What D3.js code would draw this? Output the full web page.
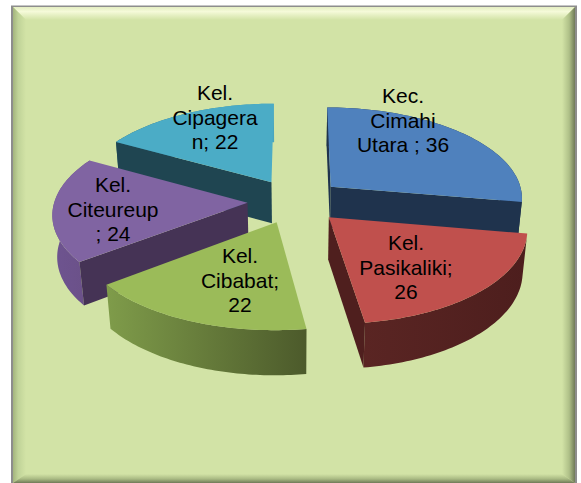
<!DOCTYPE html>
<html>
<head>
<meta charset="utf-8">
<style>html,body{margin:0;padding:0;background:#fff}svg{display:block}</style>
<script src="https://cdn.jsdelivr.net/npm/d3@7/dist/d3.min.js"></script>
</head>
<body>
<div id="chart"></div>
<script>
const categories = ["Kec. Cimahi Utara", "Kel. Pasikaliki", "Kel. Cibabat", "Kel. Citeureup", "Kel. Cipagera"];
const values = [36, 26, 22, 24, 22];
const labelLines = [
  ["Kec.", "Cimahi", "Utara ; 36"],
  ["Kel.", "Pasikaliki;", "26"],
  ["Kel.", "Cibabat;", "22"],
  ["Kel.", "Citeureup", "; 24"],
  ["Kel.", "Cipagera", "n; 22"]
];
const topColors = ["#4f81bd", "#c0504d", "#9bbb59", "#8064a2", "#4bacc6"];
const cutColors = ["#1f334d", "#4f1f1e", "#4f5f2d", "#453355", "#1f4551"];
const outerStops = [
  ["#1f334d", "#1f334d"],
  ["#5a2523", "#4d1e1d"],
  ["#7f9c4a", "#4c5a2b"],
  ["#6e5490", "#6a5087"],
  ["#2a5f6e", "#4aa5be"]
];
const drawOrder = [0, 4, 3, 1, 2];
const labelCentres = [[403, 103], [406, 250], [240, 263], [113, 192], [215, 100]];

const W = 581, H = 483;
const cx = 295, cy = 201, X = 193, Y = 91, p = 0.11, q = 0.02, depth = 42.5, explode = 0.246;

// Ground-plane perspective: u,v are plane coordinates (pie radius = 1), z 0 = top face, 1 = bottom face
function project(u, v, z) {
  const s = 1 / (1 + p * v + q * z);
  return [cx + X * u * s, cy - Y * v * s + depth * z * s];
}

const svg = d3.select("#chart").append("svg").attr("width", W).attr("height", H);
const defs = svg.append("defs");

function linGrad(id, x1, y1, x2, y2, stops) {
  const g = defs.append("linearGradient").attr("id", id)
    .attr("x1", x1).attr("y1", y1).attr("x2", x2).attr("y2", y2);
  stops.forEach(s => g.append("stop").attr("offset", s[0]).attr("stop-color", s[1]));
}

// Panel with bevel
const L = 13, T = 7, R = 575, B = 483, bw = 13, bt = 13, bb = 9;
linGrad("bTop", 0, 0, 0, 1, [[0, "#e4eec2"], [0.35, "#f5fad9"], [1, "#d2e3a6"]]);
linGrad("bLeft", 0, 0, 1, 0, [[0, "#a3b47d"], [0.4, "#c0d398"], [1, "#d2e3a6"]]);
linGrad("bRight", 0, 0, 1, 0, [[0, "#d2e3a6"], [0.55, "#afc088"], [1, "#6f7a58"]]);
linGrad("bBottom", 0, 0, 0, 1, [[0, "#d2e3a6"], [0.55, "#a9ba83"], [1, "#6f7a58"]]);
const poly = d3.line();
svg.append("rect").attr("x", L - 2).attr("y", T - 1.5).attr("width", R - L + 4).attr("height", B - T + 3).attr("fill", "#8d8d8d");
svg.append("rect").attr("x", L).attr("y", T).attr("width", R - L).attr("height", B - T).attr("fill", "#d2e3a6");
svg.append("path").attr("d", poly([[L, T], [R, T], [R - bw, T + bt], [L + bw, T + bt]]) + "Z").attr("fill", "url(#bTop)");
svg.append("path").attr("d", poly([[L, T], [L + bw, T + bt], [L + bw, B - bb], [L, B]]) + "Z").attr("fill", "url(#bLeft)");
svg.append("path").attr("d", poly([[R, T], [R, B], [R - bw, B - bb], [R - bw, T + bt]]) + "Z").attr("fill", "url(#bRight)");
svg.append("path").attr("d", poly([[L, B], [L + bw, B - bb], [R - bw, B - bb], [R, B]]) + "Z").attr("fill", "url(#bBottom)");

// Slices, angles from d3.pie (clockwise from 12 o'clock, in data order)
const arcs = d3.pie().sort(null).value(d => d)(values);
const closed = d3.line().x(d => d[0]).y(d => d[1]);
const g = svg.append("g");

drawOrder.forEach(i => {
  const a = arcs[i];
  const mid = (a.startAngle + a.endAngle) / 2;
  const ax = explode * Math.sin(mid), ay = explode * Math.cos(mid);
  const pt = (t, z) => project(ax + Math.sin(t), ay + Math.cos(t), z);
  const ts = d3.range(0, 61).map(k => a.startAngle + (a.endAngle - a.startAngle) * k / 60);

  // Outer wall: the back part stays hidden behind the cut walls and top face
  const top = ts.map(t => pt(t, 0));
  const bot = ts.map(t => pt(t, 1)).reverse();
  const xs = top.concat(bot).map(d => d[0]);
  const gid = "outer" + i;
  const gr = defs.append("linearGradient").attr("id", gid).attr("gradientUnits", "userSpaceOnUse")
    .attr("x1", d3.min(xs)).attr("x2", d3.max(xs)).attr("y1", 0).attr("y2", 0);
  gr.append("stop").attr("offset", 0).attr("stop-color", outerStops[i][0]);
  gr.append("stop").attr("offset", 1).attr("stop-color", outerStops[i][1]);
  g.append("path").attr("d", closed(top.concat(bot)) + "Z").attr("fill", "url(#" + gid + ")");

  // Cut walls: only those facing the viewer
  const cuts = [];
  if (Math.sin(a.startAngle) <= 1e-9) cuts.push(a.startAngle);
  if (Math.sin(a.endAngle) > 1e-9) cuts.push(a.endAngle);
  cuts.forEach(t => {
    g.append("path")
      .attr("d", closed([project(ax, ay, 0), pt(t, 0), pt(t, 1), project(ax, ay, 1)]) + "Z")
      .attr("fill", cutColors[i]);
  });

  // Top face
  const face = [project(ax, ay, 0)].concat(ts.map(t => pt(t, 0)));
  g.append("path").attr("d", closed(face) + "Z").attr("fill", topColors[i]);
});

// Labels
const lineH = 24.6;
const labels = svg.append("g")
  .attr("font-family", "'Liberation Sans', Arial, sans-serif")
  .attr("font-size", 21).attr("fill", "#000").attr("text-anchor", "middle");
labelLines.forEach((lines, i) => {
  const t = labels.append("text").attr("data-category", categories[i]);
  lines.forEach((s, k) => {
    t.append("tspan").attr("x", labelCentres[i][0]).attr("y", labelCentres[i][1] + k * lineH).text(s);
  });
});
</script>
</body>
</html>
